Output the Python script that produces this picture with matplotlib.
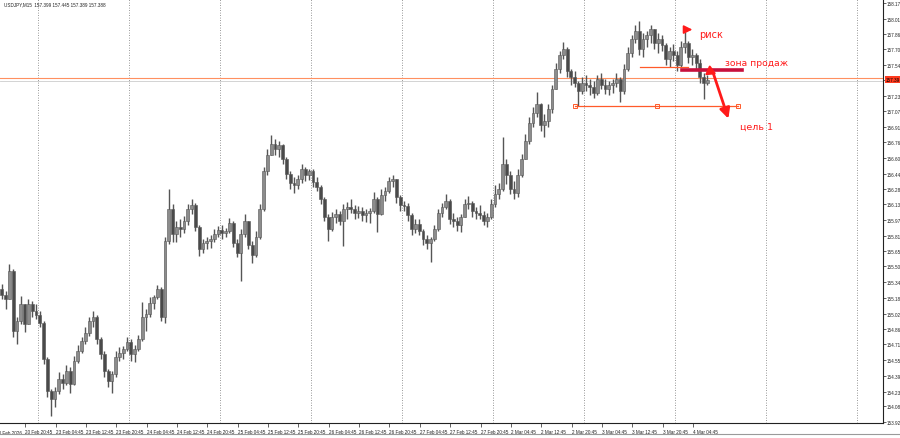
import matplotlib
matplotlib.use("Agg")
import matplotlib.pyplot as plt
from matplotlib.patches import Rectangle

# USDJPY M15, drawn as hourly candles (4 bars of M15 each)
first_open = 155.27
highs = [155.32, 155.25, 155.52, 155.47, 154.99, 155.20, 155.12, 155.17, 155.15, 155.12,
         155.05, 154.94, 154.58, 154.26, 154.28, 154.43, 154.41, 154.50, 154.48, 154.59,
         154.70, 154.78, 154.88, 154.99, 155.05, 155.01, 154.78, 154.64, 154.46, 154.44,
         154.64, 154.68, 154.69, 154.78, 154.76, 154.70, 154.80, 155.14, 155.07, 155.19,
         155.21, 155.31, 155.29, 155.80, 156.28, 156.13, 155.96, 155.98, 156.01, 156.13,
         156.18, 156.14, 155.92, 155.78, 155.80, 155.82, 155.88, 155.91, 155.92, 155.89,
         155.99, 155.96, 155.78, 155.88, 156.03, 155.96, 155.76, 155.86, 156.13, 156.51,
         156.69, 156.83, 156.79, 156.77, 156.74, 156.61, 156.47, 156.41, 156.43, 156.54,
         156.51, 156.49, 156.49, 156.41, 156.32, 156.20, 156.03, 156.05, 156.08, 156.06,
         156.13, 156.15, 156.18, 156.12, 156.11, 156.10, 156.08, 156.09, 156.25, 156.20,
         156.28, 156.30, 156.41, 156.43, 156.38, 156.22, 156.16, 156.14, 156.04, 155.98,
         155.98, 155.88, 155.82, 155.80, 155.92, 156.08, 156.14, 156.23, 156.18, 156.04,
         156.00, 156.03, 156.18, 156.21, 156.16, 156.10, 156.12, 156.06, 156.04, 156.18,
         156.32, 156.34, 156.81, 156.59, 156.47, 156.36, 156.49, 156.64, 156.84, 157.01,
         157.11, 157.27, 157.16, 157.04, 157.15, 157.34, 157.56, 157.68, 157.77, 157.72,
         157.50, 157.48, 157.38, 157.42, 157.44, 157.40, 157.38, 157.44, 157.46, 157.40,
         157.38, 157.40, 157.46, 157.42, 157.55, 157.72, 157.84, 157.95, 157.99, 157.87,
         157.89, 157.95, 157.91, 157.87, 157.84, 157.76, 157.72, 157.75, 157.68, 157.78,
         157.88, 157.78, 157.70, 157.66, 157.60, 157.46, 157.44]
lows = [155.17, 155.07, 155.17, 154.78, 154.71, 154.91, 154.83, 154.91, 154.99, 154.97,
        154.88, 154.51, 154.17, 153.98, 154.07, 154.20, 154.26, 154.30, 154.21, 154.30,
        154.52, 154.62, 154.71, 154.79, 154.88, 154.71, 154.56, 154.38, 154.28, 154.21,
        154.38, 154.54, 154.56, 154.64, 154.54, 154.53, 154.64, 154.74, 154.84, 154.99,
        155.07, 155.17, 154.94, 154.92, 155.73, 155.75, 155.75, 155.80, 155.84, 155.92,
        156.03, 155.86, 155.60, 155.63, 155.67, 155.69, 155.75, 155.80, 155.78, 155.80,
        155.84, 155.70, 155.59, 155.35, 155.80, 155.67, 155.53, 155.59, 155.78, 156.06,
        156.43, 156.63, 156.63, 156.61, 156.54, 156.38, 156.28, 156.24, 156.28, 156.34,
        156.36, 156.37, 156.30, 156.26, 156.13, 155.96, 155.76, 155.86, 155.94, 155.92,
        155.71, 155.98, 156.04, 155.98, 155.99, 155.96, 155.95, 155.94, 156.04, 155.85,
        156.02, 156.16, 156.24, 156.30, 156.14, 156.06, 156.06, 155.96, 155.82, 155.84,
        155.82, 155.72, 155.67, 155.54, 155.76, 155.86, 156.00, 156.08, 155.93, 155.90,
        155.86, 155.85, 156.00, 156.08, 156.00, 155.98, 155.98, 155.92, 155.90, 155.98,
        156.10, 156.18, 156.26, 156.33, 156.23, 156.18, 156.20, 156.41, 156.59, 156.74,
        156.91, 157.01, 156.87, 156.81, 156.91, 157.05, 157.30, 157.46, 157.60, 157.42,
        157.34, 157.32, 157.12, 157.25, 157.28, 157.24, 157.21, 157.24, 157.30, 157.25,
        157.24, 157.26, 157.32, 157.17, 157.25, 157.48, 157.62, 157.76, 157.64, 157.62,
        157.72, 157.76, 157.70, 157.66, 157.68, 157.54, 157.52, 157.58, 157.48, 157.52,
        157.66, 157.56, 157.54, 157.50, 157.36, 157.20, 157.34]
closes = [155.21, 155.17, 155.45, 154.84, 154.94, 155.12, 154.91, 155.12, 155.05, 155.01,
          154.92, 154.56, 154.24, 154.15, 154.24, 154.36, 154.32, 154.44, 154.31, 154.54,
          154.64, 154.74, 154.82, 154.94, 154.99, 154.76, 154.61, 154.44, 154.34, 154.41,
          154.58, 154.62, 154.66, 154.73, 154.61, 154.66, 154.76, 154.99, 155.02, 155.13,
          155.19, 155.27, 154.99, 155.76, 156.08, 155.83, 155.90, 155.88, 155.96, 156.08,
          156.12, 155.90, 155.67, 155.74, 155.76, 155.78, 155.83, 155.87, 155.84, 155.86,
          155.94, 155.74, 155.63, 155.83, 155.96, 155.72, 155.61, 155.80, 156.08, 156.47,
          156.63, 156.74, 156.69, 156.73, 156.59, 156.44, 156.34, 156.32, 156.38, 156.49,
          156.43, 156.47, 156.35, 156.30, 156.18, 156.00, 155.88, 156.00, 156.03, 155.96,
          156.08, 156.10, 156.08, 156.04, 156.06, 156.02, 156.04, 156.06, 156.18, 156.03,
          156.22, 156.26, 156.36, 156.38, 156.20, 156.12, 156.11, 156.02, 155.88, 155.93,
          155.86, 155.78, 155.74, 155.78, 155.88, 156.04, 156.10, 156.16, 155.98, 155.96,
          155.92, 156.00, 156.13, 156.14, 156.06, 156.04, 156.02, 155.96, 156.00, 156.13,
          156.23, 156.28, 156.54, 156.43, 156.28, 156.24, 156.43, 156.59, 156.77, 156.95,
          157.05, 157.15, 156.93, 156.97, 157.09, 157.30, 157.50, 157.64, 157.70, 157.48,
          157.42, 157.36, 157.28, 157.36, 157.34, 157.32, 157.26, 157.40, 157.34, 157.30,
          157.34, 157.36, 157.40, 157.28, 157.50, 157.66, 157.80, 157.89, 157.70, 157.80,
          157.84, 157.91, 157.76, 157.80, 157.74, 157.60, 157.68, 157.64, 157.54, 157.72,
          157.76, 157.62, 157.64, 157.56, 157.42, 157.36, 157.39]

y_ticks = [158.17, 158.01, 157.86, 157.70, 157.54, 157.39, 157.23, 157.07, 156.91, 156.76,
           156.60, 156.44, 156.28, 156.13, 155.97, 155.81, 155.65, 155.50, 155.34, 155.18,
           155.02, 154.86, 154.71, 154.55, 154.39, 154.23, 154.08, 153.92]
x_labels = ["20 Feb 2026", "20 Feb 20:45", "23 Feb 04:45", "23 Feb 12:45", "23 Feb 20:45",
            "24 Feb 04:45", "24 Feb 12:45", "24 Feb 20:45", "25 Feb 04:45", "25 Feb 12:45",
            "25 Feb 20:45", "26 Feb 04:45", "26 Feb 12:45", "26 Feb 20:45", "27 Feb 04:45",
            "27 Feb 12:45", "27 Feb 20:45", "2 Mar 04:45", "2 Mar 12:45", "2 Mar 20:45",
            "3 Mar 04:45", "3 Mar 12:45", "3 Mar 20:45", "4 Mar 04:45"]

header = "USDJPY,M15  157.399 157.445 157.389 157.388"
last_price = 157.39

# analyst's markup (bar index on M15 scale, price)
support_level = 157.12
support_bars = [606, 693, 778]
risk_level = 157.52
risk_bars = [675, 725]
sell_zone = 157.49
sell_bars = [719, 782]

small_font = "Liberation Sans"
ink = "#222222"

fig = plt.figure(figsize=(9, 4.39), dpi=100)
ax = fig.add_axes([0, 0.034, 0.981, 0.966])
ax.set_xlim(0, 931)
ax.set_ylim(153.91, 158.21)

# daily separators
for k in range(10):
    ax.axvline(39.7 + 96 * k, color="#777777", lw=0.6, ls=(0, (1, 2)), zorder=1)

# candles
opens = [first_open] + closes[:-1]
for i, (o, h, l, c) in enumerate(zip(opens, highs, lows, closes)):
    x = 4 * i + 2
    ax.vlines(x, min(l, o, c), max(h, o, c), color="#555555", lw=1.0, zorder=3)
    body = max(abs(c - o), 0.004)
    face = "#8c8c8c" if c >= o else "#4a4a4a"
    ax.add_patch(Rectangle((x - 1.5, min(o, c)), 3.0, body, facecolor=face,
                           edgecolor="#555555", lw=0.4, zorder=4))

# bid line
ax.axhline(last_price + 0.02, color="#ff9060", lw=0.8, zorder=2)
ax.axhline(last_price - 0.01, color="#cccccc", lw=0.6, zorder=2)

# markup lines
ax.plot([support_bars[0], support_bars[-1]], [support_level] * 2, color="#ff5a2a", lw=0.9, zorder=5)
ax.plot(support_bars, [support_level] * 3, "s", ms=2.2, mfc="none", mec="#ff5a2a", mew=0.7, zorder=6)
ax.plot(risk_bars, [risk_level] * 2, color="#ff5a2a", lw=0.9, zorder=5)
ax.plot(sell_bars, [sell_zone] * 2, color="#c8103c", lw=2.6, zorder=6)

red = "#ff1a1a"
ax.annotate("", xy=(733, 157.90), xytext=(719, 157.90),
            arrowprops=dict(arrowstyle="-|>,head_length=0.5,head_width=0.25", color=red, lw=1.2),
            zorder=7)
ax.annotate("", xy=(769, 156.97), xytext=(751, 157.49),
            arrowprops=dict(arrowstyle="-|>,head_length=0.6,head_width=0.3", color=red, lw=2),
            zorder=7)
ax.annotate("", xy=(741, 157.42), xytext=(751, 157.49),
            arrowprops=dict(arrowstyle="-|>,head_length=0.5,head_width=0.3", color=red, lw=1.5),
            zorder=7)
ax.text(737, 157.86, "риск", color=red, fontsize=7, va="center", ha="left", zorder=8)
ax.text(764, 157.57, "зона продаж", color=red, fontsize=6.6, va="center", ha="left", zorder=8)
ax.text(780, 156.92, "цель 1", color=red, fontsize=6.8, va="center", ha="left", zorder=8)

# axes look
for side in ["top", "left"]:
    ax.spines[side].set_visible(False)
for side in ["right", "bottom"]:
    ax.spines[side].set_color(ink)
    ax.spines[side].set_linewidth(0.8)

ax.yaxis.tick_right()
ax.set_yticks(y_ticks, [f"{v:.2f}" for v in y_ticks])
ax.tick_params(axis="y", length=2, width=0.5, pad=0.6, labelsize=3.3, colors=ink)
for lab in ax.get_yticklabels():
    lab.set_family(small_font)

tick_pos = [26.7 + 32 * (k - 1) for k in range(len(x_labels))]
ax.set_xticks(tick_pos[1:], x_labels[1:], ha="left")
ax.tick_params(axis="x", length=3, width=0.5, pad=1.5, labelsize=3.3, colors=ink)
for lab in ax.get_xticklabels():
    lab.set_family(small_font)
ax.text(tick_pos[0] + 1.5, -0.016, x_labels[0], transform=ax.get_xaxis_transform(),
        fontsize=3.3, family=small_font, ha="left", va="top", color=ink, clip_on=False)

ax.text(0.004, 0.994, header, transform=ax.transAxes, family=small_font,
        fontsize=3.3, va="top", ha="left", color=ink)

ax.text(1.003, last_price, f"{last_price:.2f}", transform=ax.get_yaxis_transform(),
        fontsize=3.3, family=small_font, va="center", ha="left", color="black", zorder=10,
        bbox=dict(boxstyle="square,pad=0.2", fc="#ff3b1f", ec="none"))

fig.add_artist(plt.Line2D([0, 1], [0.008, 0.008], color="#9a9a9a", lw=0.8))

fig.savefig("out.png", dpi=100, facecolor="white")
